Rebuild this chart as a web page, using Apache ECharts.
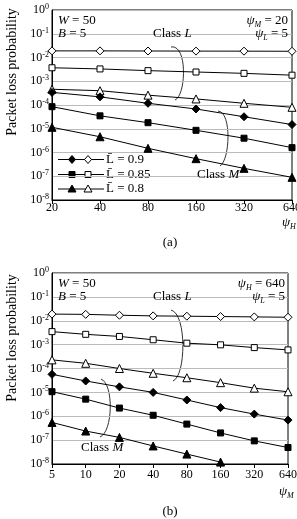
<!DOCTYPE html>
<html>
<head>
<meta charset="utf-8">
<script src="https://cdn.jsdelivr.net/npm/echarts@6/dist/echarts.min.js"></script>
<style>
html, body { margin: 0; padding: 0; background: #fff; }
#chart { width: 297px; height: 519px; }
</style>
</head>
<body>
<div id="chart"></div>
<script>
// x categories
var xA = ['20', '40', '80', '160', '320', '640'];          // psi_H
var xB = ['5', '10', '20', '40', '80', '160', '320', '640']; // psi_M

// (a) psi_M = 20, psi_L = 5
var aL90 = [0.019, 0.019, 0.0188, 0.0186, 0.0185, 0.0183];
var aL85 = [3.7e-3, 3.3e-3, 2.8e-3, 2.45e-3, 2.15e-3, 1.8e-3];
var aL80 = [4.6e-4, 4.0e-4, 2.6e-4, 1.8e-4, 1.18e-4, 8e-5];
var aM90 = [3.4e-4, 2.2e-4, 1.18e-4, 6.8e-5, 3.2e-5, 1.5e-5];
var aM85 = [8.5e-5, 3.5e-5, 1.8e-5, 8.6e-6, 4e-6, 1.6e-6];
var aM80 = [1.15e-5, 4.6e-6, 1.5e-6, 5.5e-7, 2.15e-7, 9e-8];

// (b) psi_H = 640, psi_L = 5
var bL90 = [0.019, 0.0185, 0.017, 0.016, 0.0155, 0.015, 0.0145, 0.014];
var bL85 = [3.5e-3, 2.7e-3, 2.2e-3, 1.6e-3, 1.15e-3, 9.8e-4, 7.5e-4, 6e-4];
var bL80 = [2.3e-4, 1.65e-4, 1.0e-4, 6.3e-5, 4.1e-5, 2.55e-5, 1.5e-5, 1.06e-5];
var bM90 = [5.7e-5, 3.0e-5, 1.7e-5, 1.0e-5, 4.8e-6, 2.3e-6, 1.23e-6, 6.9e-7];
var bM85 = [1.07e-5, 5.2e-6, 2.2e-6, 1.1e-6, 4.7e-7, 2.0e-7, 9.3e-8, 4.9e-8];
var bM80 = [5.5e-7, 2.4e-7, 1.3e-7, 5.7e-8, 2.6e-8, 1.2e-8, null, null];

var FONT = 'Liberation Serif';
var chart = echarts.init(document.getElementById('chart'));

function mk(name, data, idx, symbol, size, open) {
    return {
        name: name,
        type: 'line',
        xAxisIndex: idx,
        yAxisIndex: idx,
        data: data,
        symbol: symbol,
        symbolSize: size,
        showAllSymbol: true,
        connectNulls: false,
        lineStyle: { color: '#000', width: 1 },
        itemStyle: open ? { color: '#fff', borderColor: '#000', borderWidth: 1 }
                        : { color: '#000', borderColor: '#000', borderWidth: 1 },
        z: open ? 3 : 4
    };
}

function yAx(idx) {
    return {
        type: 'log',
        logBase: 10,
        gridIndex: idx,
        min: 1e-8,
        max: 1,
        axisLine: { show: true, lineStyle: { color: '#000' } },
        axisTick: { show: false },
        minorTick: { show: false },
        splitLine: { show: true, lineStyle: { color: '#bbb', width: 1 } },
        axisLabel: {
            margin: 3,
            formatter: function (v) {
                var e = Math.round(Math.log10(v));
                return '{b|10}{s|' + e + '}';
            },
            rich: {
                b: { fontFamily: FONT, fontSize: 12, color: '#000', lineHeight: 14 },
                s: { fontFamily: FONT, fontSize: 8, color: '#000', verticalAlign: 'top', lineHeight: 14, padding: [0, 0, 6, 0] }
            }
        }
    };
}

function xAx(idx, cats, margin) {
    return {
        type: 'category',
        gridIndex: idx,
        data: cats,
        boundaryGap: false,
        axisLine: { show: true, lineStyle: { color: '#000' } },
        axisTick: { show: true, length: 4, lineStyle: { color: '#000' } },
        axisLabel: { margin: margin, fontFamily: FONT, fontSize: 12, color: '#000' },
        splitLine: { show: false }
    };
}

// legend drawing helpers (legend in panel a)
function legendRow(y, shape, text) {
    var g = [];
    g.push({ type: 'line', shape: { x1: 58, y1: y, x2: 104, y2: y }, style: { stroke: '#000', lineWidth: 1 } });
    [[72, '#000'], [88, '#fff']].forEach(function (p) {
        var x = p[0], fill = p[1];
        if (shape === 'diamond') {
            g.push({ type: 'polygon', shape: { points: [[x, y - 4], [x + 3.5, y], [x, y + 4], [x - 3.5, y]] }, style: { fill: fill, stroke: '#000', lineWidth: 1 } });
        } else if (shape === 'rect') {
            g.push({ type: 'rect', shape: { x: x - 3, y: y - 3, width: 6, height: 6 }, style: { fill: fill, stroke: '#000', lineWidth: 1 } });
        } else {
            g.push({ type: 'polygon', shape: { points: [[x, y - 4], [x + 4, y + 3], [x - 4, y + 3]] }, style: { fill: fill, stroke: '#000', lineWidth: 1 } });
        }
    });
    g.push({ type: 'text', x: 106, y: y, style: { text: 'L\u0304 = ' + text, font: '13px "Liberation Serif"', fill: '#000', textVerticalAlign: 'middle' } });
    return g;
}

function txt(x, y, text, align, size, rich) {
    return {
        type: 'text', x: x, y: y, z: 10,
        style: {
            text: text, fill: '#000', font: (size || 13) + 'px "Liberation Serif"',
            textAlign: align || 'left', textVerticalAlign: 'middle', rich: rich
        }
    };
}

var richPsi = {
    i: { fontFamily: FONT, fontStyle: 'italic', fontSize: 13, color: '#000', lineHeight: 15 },
    n: { fontFamily: FONT, fontSize: 13, color: '#000', lineHeight: 15 },
    sub: { fontFamily: FONT, fontStyle: 'italic', fontSize: 8, color: '#000', verticalAlign: 'bottom', lineHeight: 6 }
};

function curve(x1, y1, c1x, c1y, c2x, c2y, x2, y2) {
    return { type: 'bezierCurve', shape: { x1: x1, y1: y1, cpx1: c1x, cpy1: c1y, cpx2: c2x, cpy2: c2y, x2: x2, y2: y2 }, style: { stroke: '#333', lineWidth: 1, fill: null } };
}

var graphics = [].concat(
    legendRow(159.5, 'diamond', '0.9'),
    legendRow(174.5, 'rect', '0.85'),
    legendRow(189, 'triangle', '0.8'),
    [
        // panel (a) annotations
        txt(58, 21, '{i|W}{n| = 50}', 'left', 13, richPsi),
        txt(58, 34, '{i|B}{n| = 5}', 'left', 13, richPsi),
        txt(288, 21, '{i|ψ}{sub|M}{n| = 20}', 'right', 13, richPsi),
        txt(288, 34, '{i|ψ}{sub|L}{n| = 5}', 'right', 13, richPsi),
        txt(153, 34, '{n|Class }{i|L}', 'left', 13, richPsi),
        txt(197, 175, '{n|Class }{i|M}', 'left', 13, richPsi),
        curve(171, 47, 188, 44, 186, 96, 175, 100),
        curve(218, 111, 232, 112, 230, 160, 220, 166),
        txt(282, 223, '{i|ψ}{sub|H}', 'left', 14, richPsi),
        txt(170, 243, '(a)', 'center', 13),
        // panel (b) annotations
        txt(58, 284, '{i|W}{n| = 50}', 'left', 13, richPsi),
        txt(58, 297, '{i|B}{n| = 5}', 'left', 13, richPsi),
        txt(285, 284, '{i|ψ}{sub|H}{n| = 640}', 'right', 13, richPsi),
        txt(285, 297, '{i|ψ}{sub|L}{n| = 5}', 'right', 13, richPsi),
        txt(153, 297, '{n|Class }{i|L}', 'left', 13, richPsi),
        txt(81, 448, '{n|Class }{i|M}', 'left', 13, richPsi),
        curve(171, 310, 187, 314, 186, 376, 173, 381),
        curve(101, 379, 114, 384, 113, 432, 100, 437),
        txt(279, 492, '{i|ψ}{sub|M}', 'left', 14, richPsi),
        txt(170, 512, '(b)', 'center', 13),
        // y axis titles
        { type: 'text', x: 12, y: 72, rotation: Math.PI / 2, style: { text: 'Packet loss probability', font: '14px "Liberation Serif"', fill: '#000', textAlign: 'center', textVerticalAlign: 'middle' } },
        { type: 'text', x: 12, y: 338, rotation: Math.PI / 2, style: { text: 'Packet loss probability', font: '14px "Liberation Serif"', fill: '#000', textAlign: 'center', textVerticalAlign: 'middle' } }
    ]
);

var option = {
    animation: false,
    backgroundColor: '#fff',
    textStyle: { fontFamily: FONT, color: '#000' },
    grid: [
        { left: 52, top: 10, width: 240, height: 190, show: true, borderColor: '#000', borderWidth: 1, backgroundColor: 'transparent', outerBoundsMode: 'none' },
        { left: 52, top: 273, width: 236, height: 191, show: true, borderColor: '#000', borderWidth: 1, backgroundColor: 'transparent', outerBoundsMode: 'none' }
    ],
    xAxis: [xAx(0, xA, 2), xAx(1, xB, 5)],
    yAxis: [yAx(0), yAx(1)],
    series: [
        mk('L 0.9', aL90, 0, 'diamond', 8, true),
        mk('L 0.85', aL85, 0, 'rect', 6, true),
        mk('L 0.8', aL80, 0, 'triangle', 8, true),
        mk('M 0.9', aM90, 0, 'diamond', 8, false),
        mk('M 0.85', aM85, 0, 'rect', 6, false),
        mk('M 0.8', aM80, 0, 'triangle', 8, false),
        mk('L 0.9', bL90, 1, 'diamond', 8, true),
        mk('L 0.85', bL85, 1, 'rect', 6, true),
        mk('L 0.8', bL80, 1, 'triangle', 8, true),
        mk('M 0.9', bM90, 1, 'diamond', 8, false),
        mk('M 0.85', bM85, 1, 'rect', 6, false),
        mk('M 0.8', bM80, 1, 'triangle', 8, false)
    ],
    graphic: graphics
};

chart.setOption(option);
</script>
</body>
</html>
